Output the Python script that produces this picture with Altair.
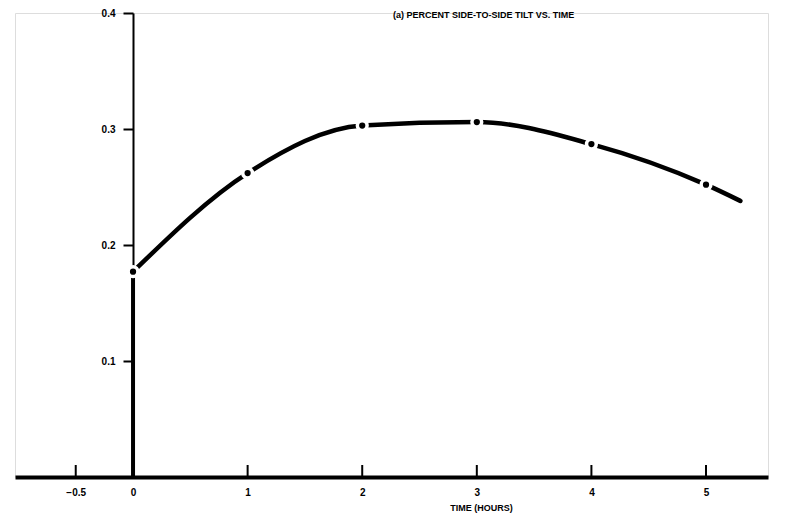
import altair as alt
import pandas as pd

# Data
times = [0, 1, 2, 3, 4, 5, 5.3]
tilt = [0.177, 0.262, 0.303, 0.306, 0.287, 0.252, 0.238]
marker_times = [0, 1, 2, 3, 4, 5]
marker_tilt = [0.177, 0.262, 0.303, 0.306, 0.287, 0.252]
x_ticks = [-0.5, 0, 1, 2, 3, 4, 5]
y_ticks = [0.1, 0.2, 0.3, 0.4]
title_text = "(a) PERCENT SIDE-TO-SIDE TILT VS. TIME"
x_title = "TIME (HOURS)"

W, H = 753, 464
X_DOMAIN = [-1.03, 5.541]
Y_DOMAIN = [0, 0.4]
FONT = "Liberation Sans"

line_df = pd.DataFrame({"t": times, "v": tilt})
mark_df = pd.DataFrame({"t": marker_times, "v": marker_tilt})
stem_df = pd.DataFrame({"t": [times[0]], "v0": [0.0], "v": [tilt[0]]})
tick_df = pd.DataFrame({"t": x_ticks})

x_scale = alt.Scale(domain=X_DOMAIN, nice=False, zero=False)
y_scale = alt.Scale(domain=Y_DOMAIN, nice=False, zero=False)

x_axis = alt.Axis(
    values=x_ticks, format="~g", grid=False, ticks=False, tickSize=0,
    domainWidth=4, domainColor="black",
    labelFont=FONT, labelFontSize=10, labelFontWeight="bold", labelColor="black",
    labelPadding=10, labelFlush=False,
    title=x_title, titleFont=FONT, titleFontSize=9, titleFontWeight="bold",
    titleColor="black", titleX=466, titleY=33, titleBaseline="alphabetic",
    titleAlign="center",
)
y_axis = alt.Axis(
    values=y_ticks, format=".1f", grid=False, offset=-118,
    domainWidth=2, domainColor="black", tickSize=10, tickWidth=2, tickColor="black",
    labelFont=FONT, labelFontSize=10, labelFontWeight="bold", labelColor="black",
    labelPadding=8, title=None, labelFlush=False,
)

X = alt.X("t:Q", scale=x_scale, axis=x_axis)
Y = alt.Y("v:Q", scale=y_scale, axis=y_axis)

curve = alt.Chart(line_df).mark_line(
    interpolate="monotone", color="black", strokeWidth=4.5, strokeCap="round"
).encode(x=X, y=Y)

stem = alt.Chart(stem_df).mark_rule(color="black", strokeWidth=4).encode(
    x=X, y=alt.Y("v0:Q", scale=y_scale, axis=y_axis), y2="v:Q"
)

dots = alt.Chart(mark_df).mark_circle(
    fill="black", stroke="white", strokeWidth=3.5, size=95, opacity=1
).encode(x=X, y=Y)

xticks = alt.Chart(tick_df).mark_rule(color="black", strokeWidth=2).encode(
    x=X, y=alt.value(H), y2=alt.value(H - 12)
)

title = alt.Chart(pd.DataFrame({"t": [3.06], "v": [0.4], "s": [title_text]})).mark_text(
    font=FONT, fontSize=9, fontWeight="bold", color="black", baseline="middle",
    align="center", dy=2
).encode(x=X, y=Y, text="s:N")

chart = alt.layer(curve, stem, xticks, dots, title).properties(
    width=W, height=H,
    autosize=alt.AutoSizeParams(type="none"),
    padding={"left": 7, "top": 5, "right": 9, "bottom": 37},
).configure_view(stroke=None).configure(background="white")

chart.save("out.html", embed_options={"renderer": "svg", "actions": False})
